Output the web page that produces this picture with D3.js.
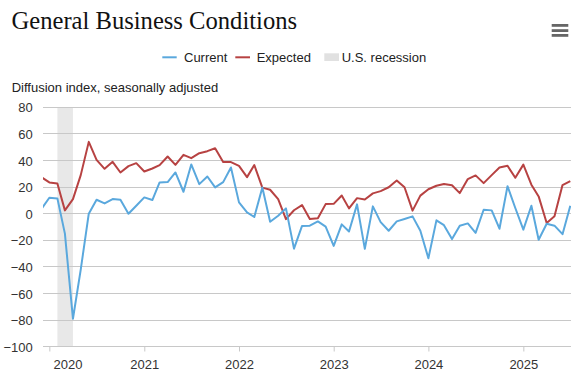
<!DOCTYPE html>
<html>
<head>
<meta charset="utf-8">
<script src="https://cdn.jsdelivr.net/npm/d3@7"></script>
<style>
  html, body { margin: 0; padding: 0; background: #fff; }
  svg { display: block; }
</style>
</head>
<body>
<svg id="chart" width="580" height="380"></svg>
<script>
// ---- Data (monthly, first month Dec 2019) ----
const startMonth = "2019-12-01";
const currentValues = [
  3.3,
  12, 11.5, -15, -79, -42, 0, 10.5, 7.75, 11, 10.5, 0, 6,
  12.25, 10.25, 23.5, 23.75, 31, 16.5, 37, 22.25, 28, 19.75, 23.75, 34.75,
  8.5, 1, -2.5, 19.75, -6, -1.5, 4, -26.3, -9.2, -9, -5.8, -9.7,
  -24.2, -8, -13.4, 7, -26.4, 5.5, -6.3, -12.8, -5.8, -4, -2, -12.8,
  -33.5, -5, -8.6, -19.1, -9, -7.3, -14.4, 3, 2.5, -11.3, 20.7, 4.3,
  -12, 6, -19.6, -7.6, -9, -15.4, 6
];
const expectedValues = [
  27.5,
  23.5, 22.75, 2.5, 11, 29, 54, 40.5, 33.75, 39, 31, 35.75, 38,
  31.75, 34, 36.5, 43, 36.75, 44.25, 41.75, 45.5, 47, 49.25, 38.8, 38.8,
  36, 27.5, 36.6, 19.6, 18, 11, -4.1, 2.6, 6.5, -3.9, -3.4, 7.2,
  7.4, 13.7, 4, 11.7, 10.7, 15.3, 17, 19.9, 25, 19.9, 2.3, 13.6,
  18.4, 21, 22.4, 21.4, 15.5, 26, 28.8, 23, 29, 34.7, 36, 27,
  36.9, 21.8, 13, -7, -2, 21.5, 24.5
];
const recession = ["2020-02-01", "2020-04-01"];
const yTicks = [80, 60, 40, 20, 0, -20, -40, -60, -80, -100];
const xTickYears = [2020, 2021, 2022, 2023, 2024, 2025];
const seriesNames = ["Current", "Expected", "U.S. recession"];
const titleText = "General Business Conditions";
const subtitleText = "Diffusion index, seasonally adjusted";

// ---- Build dates ----
const parse = d3.utcParse("%Y-%m-%d");
const t0 = parse(startMonth);
const dates = currentValues.map((_, i) => d3.utcMonth.offset(t0, i));

// ---- Layout ----
const plotL = 43, plotR = 571, plotT = 107.3, plotB = 346.7;
const svg = d3.select("#chart");
const font = "'Liberation Sans', Arial, sans-serif";
const blue = "#5aa8dd", red = "#b74242";

const x = d3.scaleUtc()
  .domain([t0, dates[dates.length - 1]])
  .range([41.3, 570.3]);
const y = d3.scaleLinear().domain([-100, 80]).range([plotB, plotT]);

const crisp = v => Math.round(v) + 0.5;

// Title
svg.append("text")
  .attr("x", 11.5).attr("y", 29.3)
  .attr("font-family", "'Liberation Serif', Georgia, serif")
  .attr("font-size", 24.6).attr("fill", "#111")
  .text(titleText);

// Hamburger menu
[24, 29.2, 34].forEach(yy => {
  svg.append("rect").attr("x", 551.7).attr("y", yy).attr("width", 16.6).attr("height", 2.8)
    .attr("fill", "#666");
});

// Legend
const lg = svg.append("g").attr("font-family", font).attr("font-size", 13).attr("fill", "#222");
lg.append("line").attr("x1", 162.3).attr("x2", 176.7).attr("y1", 57.3).attr("y2", 57.3)
  .attr("stroke", blue).attr("stroke-width", 2);
lg.append("text").attr("x", 184).attr("y", 62.3).text(seriesNames[0]);
lg.append("line").attr("x1", 235.3).attr("x2", 250).attr("y1", 57.3).attr("y2", 57.3)
  .attr("stroke", red).attr("stroke-width", 2);
lg.append("text").attr("x", 256.7).attr("y", 62.3).text(seriesNames[1]);
lg.append("rect").attr("x", 324.3).attr("y", 53.3).attr("width", 14.7).attr("height", 7.7)
  .attr("fill", "#e1e1e1");
lg.append("text").attr("x", 341.7).attr("y", 62.3).text(seriesNames[2]);

// Subtitle
svg.append("text").attr("x", 11.7).attr("y", 91.7)
  .attr("font-family", font).attr("font-size", 13).attr("fill", "#222")
  .text(subtitleText);

// Clip
svg.append("clipPath").attr("id", "plotclip")
  .append("rect").attr("x", plotL).attr("y", plotT - 5)
  .attr("width", plotR - plotL).attr("height", plotB - plotT + 10);

// Recession band
svg.append("rect")
  .attr("x", x(parse(recession[0])))
  .attr("width", x(parse(recession[1])) - x(parse(recession[0])))
  .attr("y", plotT).attr("height", plotB - plotT)
  .attr("fill", "#e8e8e8");

// Y grid + labels
const yAxis = d3.axisLeft(y).tickValues(yTicks).tickSize(0).tickPadding(0);
const yg = svg.append("g").attr("transform", `translate(32.7,0)`).call(yAxis);
yg.select(".domain").remove();
yg.selectAll("text").attr("font-family", font).attr("font-size", 13).attr("fill", "#333")
  .attr("x", 0).attr("dy", "0.35em");

svg.append("g").selectAll("line").data(yTicks).join("line")
  .attr("x1", plotL).attr("x2", plotR)
  .attr("y1", d => crisp(y(d) - 0.5)).attr("y2", d => crisp(y(d) - 0.5))
  .attr("stroke", "#c8c8c8").attr("stroke-width", 1);

// X axis
const xTickDates = xTickYears.map(yr => new Date(Date.UTC(yr, 0, 1)));
const xAxis = d3.axisBottom(x).tickValues(xTickDates).tickFormat(d3.utcFormat("%Y"))
  .tickSize(5).tickPadding(8);
const xg = svg.append("g").attr("transform", `translate(0,${crisp(plotB - 0.5)})`).call(xAxis);
xg.select(".domain").remove();
xg.selectAll("line").attr("stroke", "#c8c8c8");
xg.selectAll("text").attr("font-family", font).attr("font-size", 13).attr("fill", "#333");
// First label justified to stay inside the plot area (as in the reference)
xg.selectAll("text").filter((d, i) => i === 0)
  .attr("text-anchor", "start")
  .attr("x", 53 - x(xTickDates[0]));

// Lines
const lineGen = vals => d3.line()
  .x((d, i) => x(dates[i]))
  .y(d => y(d))(vals);

const lines = svg.append("g").attr("clip-path", "url(#plotclip)");
lines.append("path").attr("d", lineGen(expectedValues))
  .attr("fill", "none").attr("stroke", red).attr("stroke-width", 2)
  .attr("stroke-linejoin", "round");
lines.append("path").attr("d", lineGen(currentValues))
  .attr("fill", "none").attr("stroke", blue).attr("stroke-width", 2)
  .attr("stroke-linejoin", "round");
</script>
</body>
</html>
